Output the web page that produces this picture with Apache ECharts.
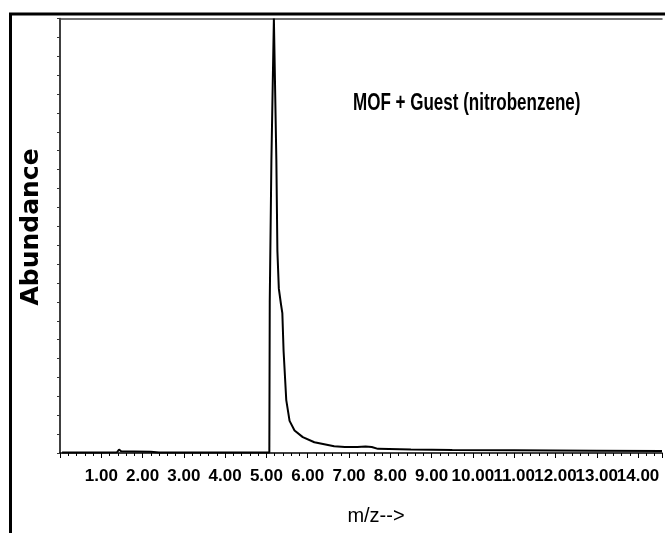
<!DOCTYPE html>
<html>
<head>
<meta charset="utf-8">
<script src="https://cdn.jsdelivr.net/npm/echarts@6/dist/echarts.min.js"></script>
<style>
html,body{margin:0;padding:0;background:#fff;}
#chart{width:665px;height:533px;}
</style>
</head>
<body>
<div id="chart"></div>
<script>
// m/z positions (x) and abundance (arbitrary units, peak = 230)
var mzValues = [0.05, 0.5, 1.0, 1.38, 1.43, 1.48, 1.8, 2.2, 2.4, 3.0, 4.0, 4.8, 5.07,
  5.08, 5.12, 5.18,
  5.24, 5.265, 5.30, 5.35, 5.385, 5.415, 5.48, 5.56, 5.68, 5.88, 6.16, 6.64, 6.9, 7.2, 7.4, 7.55, 7.7, 8.5, 9.5, 11.0, 13.0, 14.58];
var abundanceValues = [0.3, 0.3, 0.3, 0.4, 1.8, 0.9, 0.8, 0.7, 0.3, 0.3, 0.3, 0.3, 0.3,
  80, 155, 230,
  155, 107, 87, 79, 74, 54, 28, 17, 11.9, 8.4, 5.7, 3.6, 3.2, 3.2, 3.5, 3.2, 2.2, 1.8, 1.6, 1.4, 1.2, 1.05];
var titleText = 'MOF + Guest (nitrobenzene)';
var xAxisTitle = 'm/z-->';
var yAxisTitle = 'Abundance';

var seriesData = mzValues.map(function (x, i) { return [x, abundanceValues[i]]; });

var chart = echarts.init(document.getElementById('chart'));
chart.setOption({
  backgroundColor: '#fff',
  animation: false,
  grid: { left: 60, right: 0, top: 18.5, bottom: 80 },
  xAxis: [{
    type: 'value',
    min: 0,
    max: 14.58,
    interval: 1,
    name: xAxisTitle,
    nameLocation: 'middle',
    nameGap: 53,
    nameTextStyle: { fontFamily: 'Liberation Sans', fontSize: 20, color: '#000', padding: [0, 0, 0, 30] },
    axisLine: { show: true, lineStyle: { color: '#000', width: 1.5 } },
    axisTick: { show: true, inside: false, length: 5, lineStyle: { color: '#000', width: 1 } },
    minorTick: { show: true, splitNumber: 5, length: 3, lineStyle: { color: '#000', width: 1 } },
    splitLine: { show: false },
    axisLabel: {
      margin: 15,
      color: '#000',
      fontFamily: 'Liberation Sans',
      fontWeight: 'bold',
      fontSize: 17,
      formatter: function (v) { return (Number.isInteger(v) && v > 0) ? v.toFixed(2) : ''; }
    }
  }, {
    type: 'value',
    position: 'top',
    min: 0,
    max: 14.58,
    axisLine: { show: true, lineStyle: { color: '#444', width: 1.5 } },
    axisTick: { show: false },
    axisLabel: { show: false },
    splitLine: { show: false }
  }],
  yAxis: {
    type: 'value',
    min: 0,
    max: 230,
    interval: 10,
    axisLine: { show: true, lineStyle: { color: '#000', width: 1.5 } },
    axisTick: { show: true, inside: false, length: 3, lineStyle: { color: '#333', width: 1 } },
    axisLabel: { show: false },
    splitLine: { show: false }
  },
  graphic: [
    {
      type: 'rect',
      silent: true,
      shape: { x: 10.5, y: 14, width: 1000, height: 1000 },
      style: { fill: 'none', stroke: '#000', lineWidth: 3 }
    },
    {
      type: 'text',
      silent: true,
      x: 31,
      y: 227,
      rotation: Math.PI / 2,
      style: {
        text: yAxisTitle,
        fontFamily: 'DejaVu Sans',
        fontWeight: 'bold',
        fontSize: 25,
        fill: '#000',
        textAlign: 'center',
        textVerticalAlign: 'middle'
      }
    },
    {
      type: 'text',
      silent: true,
      x: 353,
      y: 104,
      scaleX: 0.74,
      style: {
        text: titleText,
        fontFamily: 'Liberation Sans',
        fontWeight: 'bold',
        fontSize: 23,
        fill: '#000',
        textAlign: 'left',
        textVerticalAlign: 'middle'
      }
    }
  ],
  series: [{
    type: 'line',
    data: seriesData,
    showSymbol: false,
    symbol: 'none',
    smooth: false,
    lineStyle: { color: '#000', width: 2 },
    clip: true
  }]
});
</script>
</body>
</html>
